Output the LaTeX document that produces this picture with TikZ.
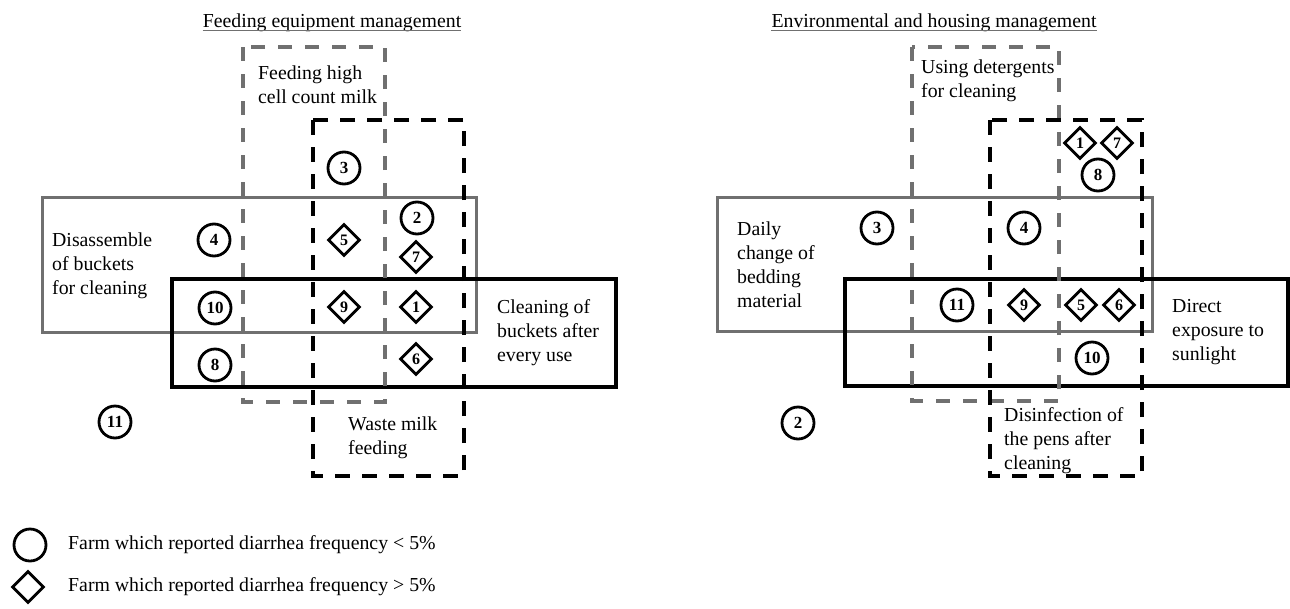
\documentclass[tikz,border=0pt]{standalone}
\usepackage{fontspec}
\setmainfont{Liberation Serif}
\usetikzlibrary{shapes.geometric}
\definecolor{boxgray}{RGB}{112,112,112}
\tikzset{
  lbl/.style={anchor=west, inner sep=0pt, align=left, font=\fontsize{19.8}{24}\selectfont},
  ttl/.style={anchor=base, inner sep=0pt, font=\fontsize{19.8}{24}\selectfont},
  low/.style={circle, draw, line width=2.8pt, minimum size=32pt, inner sep=0pt, font=\fontsize{17}{17}\selectfont\bfseries},
  high/.style={diamond, draw, line width=2.8pt, minimum width=32pt, minimum height=32pt, inner sep=0pt, font=\fontsize{16}{16}\selectfont\bfseries},
  graysolid/.style={draw=boxgray, line width=3pt},
  blacksolid/.style={draw=black, line width=3.2pt},
  graydash/.style={draw=boxgray, line width=3.5pt, dash pattern=on 14pt off 13pt},
  blackdash/.style={draw=black, line width=3.5pt, dash pattern=on 15pt off 12pt},
  uline/.style={draw=boxgray, line width=1.3pt},
}
\begin{document}
\begin{tikzpicture}[x=1pt,y=-1pt]
\useasboundingbox (0,0) rectangle (1290,608);

% ---------- Left diagram ----------
\node[ttl] (T1) at (332,27) {Feeding equipment management};
\draw[uline] ([yshift=-3.5pt]T1.base west) -- ([yshift=-3.5pt]T1.base east);

\draw[graysolid] (42,197) rectangle (476,332);
\draw[blacksolid] (172,279) rectangle (616,387);
\draw[graydash] (243,47) rectangle (385,402);
\draw[blackdash] (313,120) rectangle (464,476);

\node[lbl] (Lhigh) at (258,84.5) {Feeding high\\cell count milk};
\node[lbl] (Ldis) at (52,266) {Disassemble\\of buckets\\for cleaning};
\node[lbl] (Lclean) at (497,333) {Cleaning of\\buckets after\\every use};
\node[lbl] (Lwaste) at (348,438) {Waste milk\\feeding};

\node[low] (L3) at (344,168) {3};
\node[low] (L2) at (417,218) {2};
\node[low] (L4) at (214,240) {4};
\node[high] (L5) at (344,240) {5};
\node[high] (L7) at (416,257) {7};
\node[low] (L10) at (215,308) {10};
\node[high] (L9) at (344,307) {9};
\node[high] (L1) at (416,307) {1};
\node[low] (L8) at (215,365) {8};
\node[high] (L6) at (416,359) {6};
\node[low] (L11) at (115,422) {11};

% ---------- Right diagram ----------
\node[ttl] (T2) at (934,27) {Environmental and housing management};
\draw[uline] ([yshift=-3.5pt]T2.base west) -- ([yshift=-3.5pt]T2.base east);

\draw[graysolid] (717,197) rectangle (1152,331);
\draw[blacksolid] (845,279) rectangle (1288,386);
\draw[graydash] (912,47) rectangle (1059,401);
\draw[blackdash] (990,120) rectangle (1142,476);

\node[lbl] (Rdet) at (921,81) {Using detergents\\for cleaning};
\node[lbl] (Rdaily) at (737,265) {Daily\\change of\\bedding\\material};
\node[lbl] (Rsun) at (1172,332) {Direct\\exposure to\\sunlight};
\node[lbl] (Rdis) at (1004,441) {Disinfection of\\the pens after\\cleaning};

\node[high] (R1) at (1080,143) {1};
\node[high] (R7) at (1117,143) {7};
\node[low] (R8) at (1098,175) {8};
\node[low] (R4) at (1024,228) {4};
\node[low] (R3) at (877,228) {3};
\node[low] (R11) at (957,305) {11};
\node[high] (R9) at (1024,305) {9};
\node[high] (R5) at (1081,305) {5};
\node[high] (R6) at (1119,305) {6};
\node[low] (R10) at (1092,358) {10};
\node[low] (R2) at (798,423) {2};

% ---------- Legend ----------
\node[low] (Kc) at (30,545) {};
\node[lbl] (Kct) at (68,545) {Farm which reported diarrhea frequency < 5\%};
\node[high] (Kd) at (28,587) {};
\node[lbl] (Kdt) at (68,587) {Farm which reported diarrhea frequency > 5\%};
\end{tikzpicture}
\end{document}
